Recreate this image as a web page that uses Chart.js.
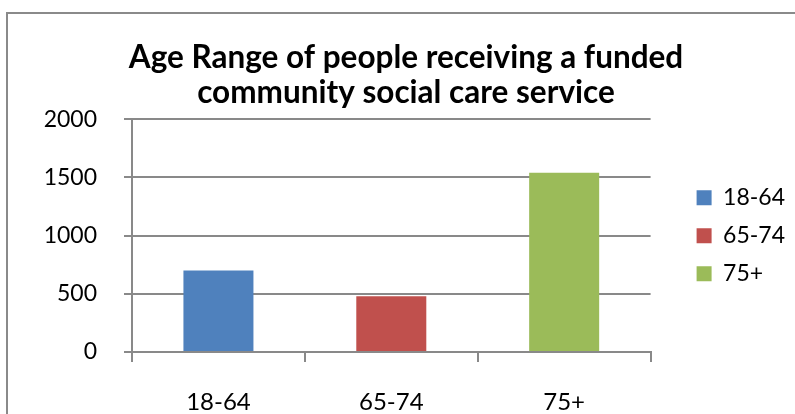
<!DOCTYPE html>
<html>
<head>
<meta charset="utf-8">
<script src="https://cdn.jsdelivr.net/npm/chart.js@4/dist/chart.umd.min.js"></script>
<style>
  html, body { margin: 0; padding: 0; background: #fff; overflow: hidden; }
  #wrap { position: relative; width: 795px; height: 414px; }
  #frame {
    position: absolute; left: 6px; top: 12px; width: 820px; height: 440px;
    border: 2px solid #8a8a8a; pointer-events: none;
  }
</style>
</head>
<body>
<div id="wrap">
  <canvas id="ageChart" width="795" height="414"></canvas>
  <div id="frame"></div>
</div>
<script>
'use strict'

// Chart data
const ageGroups = ['18-64', '65-74', '75+'];
const peopleCount = [700, 480, 1540];
const barColors = ['#4F81BD', '#C0504D', '#9BBB59'];
const yTicks = [0, 500, 1000, 1500, 2000];
const chartTitle = ['Age Range of people receiving a funded', 'community social care service'];

const gridGray = '#898989';

Chart.defaults.font.family = 'Lato, "Open Sans", sans-serif';
Chart.defaults.color = '#000';

// one dataset per age group so the legend lists each bar
const datasets = ageGroups.map((group, i) => ({
  label: group,
  data: ageGroups.map((g, j) => (j === i ? peopleCount[i] : null)),
  backgroundColor: barColors[i],
  borderWidth: 0,
  grouped: false,
  categoryPercentage: 1,
  barPercentage: 0.405
}));

const ctx = document.getElementById('ageChart').getContext('2d');
const ageChart = new Chart(ctx, {
  type: 'bar',
  data: {
    labels: ageGroups,
    datasets: datasets
  },
  options: {
    responsive: false,
    animation: false,
    layout: {
      padding: { left: 17, right: 0, top: 0, bottom: 0 }
    },
    plugins: {
      title: {
        display: true,
        text: chartTitle,
        font: { size: 31.5, weight: 'bold', lineHeight: 1.1 },
        color: '#000',
        padding: { top: 41, bottom: 9 }
      },
      legend: {
        position: 'right',
        fullSize: false,
        labels: {
          boxWidth: 15,
          boxHeight: 15,
          padding: 15,
          font: { size: 23 },
          color: '#000'
        }
      },
      tooltip: { enabled: false }
    },
    scales: {
      x: {
        afterFit: axis => {
          axis.height = 62;
        },
        grid: {
          drawOnChartArea: false,
          drawTicks: true,
          tickLength: 10,
          color: gridGray,
          lineWidth: 2
        },
        border: { color: gridGray, width: 2 },
        ticks: {
          padding: 28,
          font: { size: 24, lineHeight: 1 }
        }
      },
      y: {
        min: 0,
        max: 2000,
        afterBuildTicks: axis => {
          axis.ticks = yTicks.map(v => ({ value: v }));
        },
        afterFit: axis => {
          axis.width = 115;
        },
        grid: {
          color: gridGray,
          lineWidth: 2,
          tickLength: 8
        },
        border: { color: gridGray, width: 2 },
        ticks: {
          padding: 27,
          font: { size: 23, lineHeight: 1.2 },
          callback: value => String(value)
        }
      },
      // empty axis keeps a gap between plot and legend
      gap: {
        position: 'right',
        display: true,
        grid: { display: false },
        border: { display: false },
        ticks: { display: false },
        afterFit: axis => {
          axis.width = 31;
        }
      }
    }
  }
});
</script>
</body>
</html>
